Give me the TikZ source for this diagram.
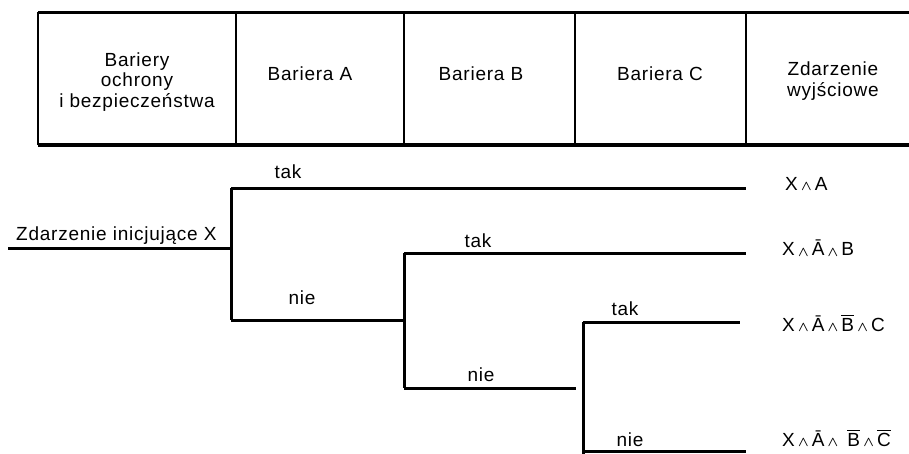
\documentclass[tikz,border=0pt]{standalone}
\usepackage{fontspec}
\setmainfont{Liberation Sans}[LetterSpace=4]
\usepackage{amsmath}
\newcommand\wdg{\,\raisebox{-0.5pt}{\scalebox{0.8}{$\boldsymbol{\wedge}$}}\,}
\newcommand\ovl[1]{$\overline{\mbox{#1}}$}
\begin{document}
\begin{tikzpicture}[x=1pt,y=-1pt,
  txt/.style={font=\fontsize{19}{20.5}\selectfont, align=center, inner sep=0pt},
  lbl/.style={font=\fontsize{19}{21}\selectfont, inner sep=0pt},
  outc/.style={font=\fontsize{19}{21}\selectfont, inner sep=0pt, anchor=west},
  rule/.style={line width=3pt},
  vrule/.style={line width=2.6pt},
  tree/.style={line width=3pt}]
\useasboundingbox (0,0) rectangle (909,453);
% header table
\coordinate (tl) at (38,12); \coordinate (tr) at (909,12);
\coordinate (bl) at (38,145); \coordinate (br) at (909,145);
\draw[rule] (tl) -- (tr);
\draw[line width=3.6pt] (bl) -- (br);
\draw[vrule] (tl) -- (bl);
\foreach \x/\n in {236/d1,404/d2,575/d3,746/d4}{
  \coordinate (\n t) at (\x,12); \coordinate (\n b) at (\x,145);
  \draw[vrule] (\n t) -- (\n b);
}
\node[txt] (h0) at (137,82) {Bariery\\ochrony\\i bezpieczeństwa};
\node[txt] (h1) at (310,74) {Bariera A};
\node[txt] (h2) at (481,74) {Bariera B};
\node[txt] (h3) at (660,74) {Bariera C};
\node[txt] (h4) at (833,81) {Zdarzenie\\wyjściowe};
% tree
\coordinate (s) at (8,248);
\coordinate (n1) at (231,248);
\coordinate (n1t) at (231,188); \coordinate (n1b) at (231,320);
\coordinate (e1) at (746,188);
\coordinate (n2) at (404,320);
\coordinate (n2t) at (404,253); \coordinate (n2b) at (404,388);
\coordinate (e2) at (746,253);
\coordinate (n2e) at (576,388);
\coordinate (n3t) at (583,322); \coordinate (n3b) at (583,460);
\coordinate (e3) at (740,322);
\coordinate (n3n) at (583,451); \coordinate (e4) at (746,451);
\draw[tree] (s) -- (n1);
\draw[tree] (n1t) -- (n1b);
\draw[tree] (n1t) -- (e1);
\draw[tree] (n1b) -- (n2);
\draw[tree] (n2t) -- (n2b);
\draw[tree] (n2t) -- (e2);
\draw[tree] (n2b) -- (n2e);
\draw[tree] (n3t) -- (n3b);
\draw[tree] (n3t) -- (e3);
\draw[tree] (n3n) -- (e4);
\node[lbl, anchor=west] (init) at (16,236) {Zdarzenie inicjujące X};
\node[lbl] (t1) at (288,172) {tak};
\node[lbl] (f1) at (302,298) {nie};
\node[lbl] (t2) at (478,241) {tak};
\node[lbl] (f2) at (481,375) {nie};
\node[lbl] (t3) at (625,309) {tak};
\node[lbl] (f3) at (630,440) {nie};
% outcomes
\node[outc] (o1) at (785,184) {X\wdg A};
\node[outc] (o2) at (782,248) {X\wdg Ā\wdg B};
\node[outc] (o3) at (782,323) {X\wdg Ā\wdg \ovl{B}\wdg C};
\node[outc] (o4) at (782,438) {X\wdg Ā\wdg\ \ovl{B}\wdg \ovl{C}};
\end{tikzpicture}
\end{document}
